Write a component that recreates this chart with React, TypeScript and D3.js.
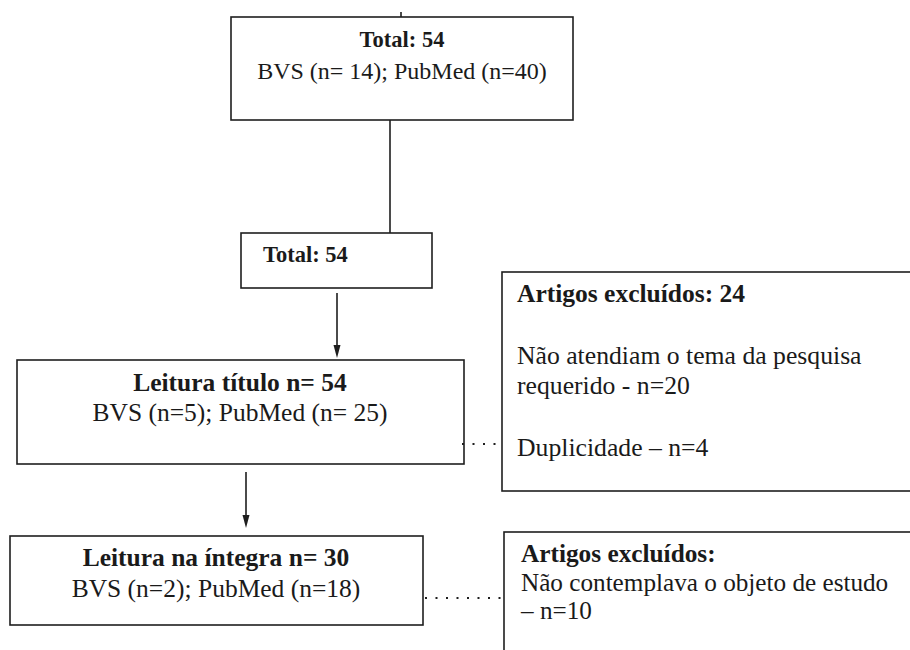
import React from "react";
import * as d3 from "d3";

// ---- Data (text content of the flow diagram) ----
const totalSearch = 54;
const sourcesSearch = ["BVS (n= 14)", "PubMed (n=40)"];
const totalAfter = 54;
const titleReading = 54;
const sourcesTitle = ["BVS (n=5)", "PubMed (n= 25)"];
const excludedTitle = 24;
const excludedTitleReasons = ["Não atendiam o tema da pesquisa", "requerido - n=20", "Duplicidade – n=4"];
const fullReading = 30;
const sourcesFull = ["BVS (n=2)", "PubMed (n=18)"];
const excludedFullReasons = ["Não contemplava o objeto de estudo", "– n=10"];

type Line = { text: string; bold?: boolean; x: number; y: number; size: number; anchor?: string };
type Box = { id: string; x0: number; y0: number; x1: number; y1: number; lines: Line[] };

const FONT = "'Liberation Serif', 'Times New Roman', serif";

const boxes: Box[] = [
  {
    id: "search", x0: 231, y0: 17, x1: 573, y1: 120,
    lines: [
      { text: `Total: ${totalSearch}`, bold: true, x: 402, y: 47, size: 22.5, anchor: "middle" },
      { text: sourcesSearch.join("; "), x: 402, y: 79, size: 24, anchor: "middle" },
    ],
  },
  {
    id: "after", x0: 241, y0: 233, x1: 432, y1: 288,
    lines: [{ text: `Total: ${totalAfter}`, bold: true, x: 263, y: 262, size: 22.5 }],
  },
  {
    id: "title", x0: 17, y0: 360, x1: 464, y1: 464,
    lines: [
      { text: `Leitura título n= ${titleReading}`, bold: true, x: 240, y: 391, size: 25.5, anchor: "middle" },
      { text: sourcesTitle.join("; "), x: 240, y: 421, size: 25.5, anchor: "middle" },
    ],
  },
  {
    id: "excl1", x0: 502, y0: 272, x1: 925, y1: 491,
    lines: [
      { text: `Artigos excluídos: ${excludedTitle}`, bold: true, x: 517, y: 302, size: 25.5 },
      { text: excludedTitleReasons[0], x: 517, y: 364, size: 25.7 },
      { text: excludedTitleReasons[1], x: 517, y: 394, size: 25.7 },
      { text: excludedTitleReasons[2], x: 517, y: 456, size: 25.7 },
    ],
  },
  {
    id: "full", x0: 10, y0: 536, x1: 423, y1: 625,
    lines: [
      { text: `Leitura na íntegra n= ${fullReading}`, bold: true, x: 216, y: 566, size: 25.5, anchor: "middle" },
      { text: sourcesFull.join("; "), x: 216, y: 597, size: 25.5, anchor: "middle" },
    ],
  },
  {
    id: "excl2", x0: 504, y0: 532, x1: 925, y1: 700,
    lines: [
      { text: "Artigos excluídos:", bold: true, x: 521, y: 562, size: 25.3 },
      { text: excludedFullReasons[0], x: 521, y: 591, size: 25.2 },
      { text: excludedFullReasons[1], x: 521, y: 619, size: 25.2 },
    ],
  },
];

const line = d3.line<[number, number]>();

export default function App() {
  const stroke = "#1e1e1e";
  const solid: [number, number][][] = [
    [[401, 12], [401, 17]],
    [[390, 120], [390, 233]],
  ];
  const arrows: [number, number][][] = [
    [[337, 293], [337, 358]],
    [[246, 472], [246, 528]],
  ];
  const dotted: [number, number][][] = [
    [[462, 444], [502, 444]],
    [[425, 598], [504, 598]],
  ];
  return (
    <svg width={910} height={650} style={{ position: "absolute", left: 0, top: 0, background: "#fff" }}>
      <rect x={0} y={0} width={910} height={650} fill="#fff" />
      {boxes.map((b) => (
        <g key={b.id}>
          <rect x={b.x0} y={b.y0} width={b.x1 - b.x0} height={b.y1 - b.y0} fill="none" stroke={stroke} strokeWidth={1.6} />
          {b.lines.map((l, i) => (
            <text key={i} x={l.x} y={l.y} fontFamily={FONT} fontSize={l.size} fontWeight={l.bold ? "bold" : "normal"} textAnchor={l.anchor || "start"} fill="#1a1a1a">
              {l.text}
            </text>
          ))}
        </g>
      ))}
      {solid.map((p, i) => (
        <path key={"s" + i} d={line(p) || ""} stroke={stroke} strokeWidth={1.6} fill="none" />
      ))}
      {arrows.map((p, i) => {
        const [x, y1] = p[1];
        return (
          <g key={"a" + i}>
            <path d={line([p[0], [x, y1 - 10]]) || ""} stroke={stroke} strokeWidth={1.6} fill="none" />
            <path d={`M${x - 3.5},${y1 - 13} L${x + 3.5},${y1 - 13} L${x},${y1} Z`} fill={stroke} />
          </g>
        );
      })}
      {dotted.map((p, i) => (
        <path key={"d" + i} d={line(p) || ""} stroke={stroke} strokeWidth={2} strokeDasharray="2,8.5" fill="none" />
      ))}
    </svg>
  );
}
